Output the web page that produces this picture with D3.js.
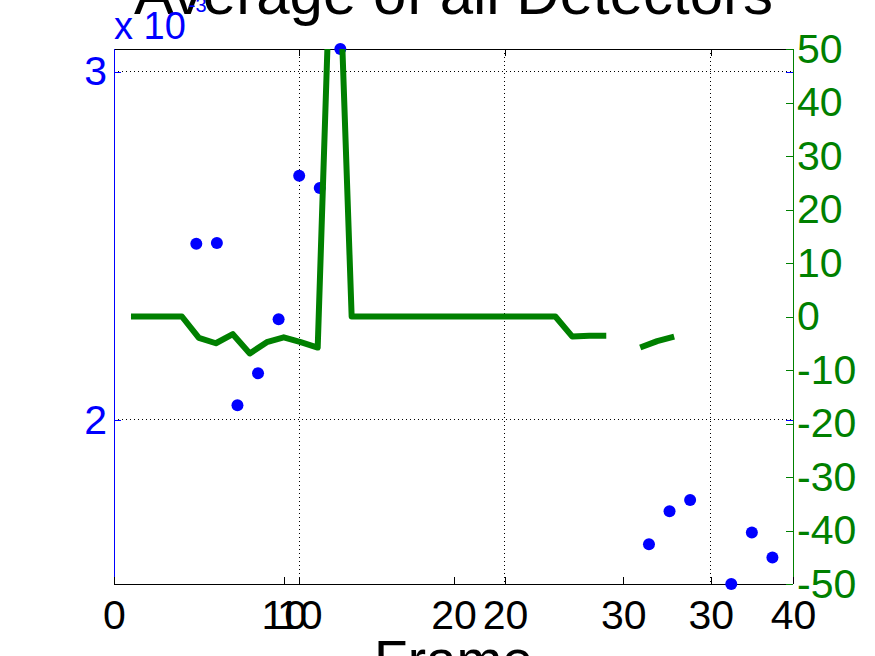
<!DOCTYPE html>
<html lang="en">
<head>
    <meta charset="utf-8">
    <title>Average of all Detectors</title>
    <script src="https://d3js.org/d3.v7.min.js"></script>
    <style>
        html, body {
            margin: 0;
            padding: 0;
            background: #fff;
        }
        text {
            font-family: "Liberation Sans", Arial, sans-serif;
        }
        .tick text {
            font-size: 41px;
        }
        line {
            shape-rendering: crispEdges;
        }
        .grid line {
            stroke: #000;
            stroke-width: 1px;
            stroke-dasharray: 1, 3;
        }
    </style>
</head>
<body>
<script type="text/javascript">

    // frames shown by the dots (left axis) and by the line (right axis)
    var dotFrames  = [5, 6, 7, 8, 9, 10, 11, 12, 27, 28, 29, 31, 32, 33];
    var dotValues  = [2.506e-3, 2.508e-3, 2.042e-3, 2.134e-3, 2.289e-3, 2.701e-3, 2.666e-3, 3.065e-3,
                      1.643e-3, 1.738e-3, 1.770e-3, 1.529e-3, 1.677e-3, 1.605e-3];

    var lineFrames = [1, 2, 3, 4, 5, 6, 7, 8, 9, 10, 11, 12, 13, 14, 15, 16, 17,
                      18, 19, 20, 21, 22, 23, 24, 25, 26, 27, 28, 29, 30, 31, 32, 33];
    var lineValues = [0, 0, 0, 0, -4.0, -5.0, -3.3, -6.9, -4.8, -3.9, -4.8, -5.8, 92, 0, 0, 0, 0,
                      0, 0, 0, 0, 0, 0, 0, 0, 0, -3.75, -3.6, -3.6, NaN, -5.8, -4.6, -3.75];

    var xTicksLeft  = [10, 20, 30];
    var xTicksRight = [0, 10, 20, 30, 40];
    var yTicksLeft  = [2e-3, 3e-3];
    var yTicksRight = [-50, -40, -30, -20, -10, 0, 10, 20, 30, 40, 50];

    var w = 875, h = 656;
    // plot box (note: "top" is taken by window.top, so prefixed names)
    var boxL = 114, boxR = 793, boxT = 49, boxB = 584;
    var blue = "#0000ff", green = "#008000";
    var tick = 7;

    // plain hyphen like matlab, not the unicode minus of d3.format
    var plain = d => String(d);

    var svg = d3.select("body").append("svg")
        .attr("width", w)
        .attr("height", h);

    // scales
    var x1 = d3.scaleLinear().domain([1, 34]).range([boxL, boxR]);
    var y1 = d3.scaleLinear().domain(d3.extent(dotValues)).range([boxB, boxT]);
    var x2 = d3.scaleLinear().domain([0, 40]).range([boxL, boxR]);
    var y2 = d3.scaleLinear().domain([-50, 50]).range([boxB, boxT]);

    // grid of the first axes
    svg.append("g").attr("class", "grid")
        .selectAll("line").data(xTicksLeft).enter().append("line")
        .attr("x1", d => x1(d)).attr("x2", d => x1(d))
        .attr("y1", boxT).attr("y2", boxB);
    svg.append("g").attr("class", "grid")
        .selectAll("line").data(yTicksLeft).enter().append("line")
        .attr("x1", boxL).attr("x2", boxR)
        .attr("y1", d => y1(d)).attr("y2", d => y1(d));

    // box
    svg.append("line").attr("x1", boxL).attr("x2", boxR).attr("y1", boxT).attr("y2", boxT)
        .attr("stroke", "#000");
    svg.append("line").attr("x1", boxL).attr("x2", boxR).attr("y1", boxB).attr("y2", boxB)
        .attr("stroke", "#000");
    svg.append("line").attr("x1", boxL).attr("x2", boxL).attr("y1", boxT).attr("y2", boxB)
        .attr("stroke", blue);
    svg.append("line").attr("x1", boxR).attr("x2", boxR).attr("y1", boxT).attr("y2", boxB)
        .attr("stroke", green);

    function style(g, color) {
        g.select(".domain").remove();
        g.selectAll(".tick line").attr("stroke", color);
        g.selectAll(".tick text").attr("fill", color);
    }

    // x axes, ticks pointing inwards
    svg.append("g")
        .attr("transform", "translate(0," + boxB + ")")
        .call(d3.axisBottom(x1).tickValues(xTicksLeft).tickSize(-tick).tickPadding(16).tickFormat(plain))
        .call(style, "#000");
    svg.append("g")
        .attr("transform", "translate(0," + boxT + ")")
        .call(d3.axisTop(x1).tickValues(xTicksLeft).tickSize(-tick).tickFormat(""))
        .call(style, "#000");
    svg.append("g")
        .attr("transform", "translate(0," + boxB + ")")
        .call(d3.axisBottom(x2).tickValues(xTicksRight).tickSize(-tick).tickPadding(16).tickFormat(plain))
        .call(style, "#000");

    // left axis (x 10^-3)
    svg.append("g")
        .attr("transform", "translate(" + boxL + ",0)")
        .call(d3.axisLeft(y1).tickValues(yTicksLeft).tickSize(-tick).tickPadding(7)
            .tickFormat(d => String(Math.round(d * 1e3))))
        .call(style, blue);
    svg.append("g")
        .attr("transform", "translate(" + boxR + ",0)")
        .call(d3.axisRight(y1).tickValues(yTicksLeft).tickSize(-tick).tickFormat(""))
        .call(style, blue);

    // right axis
    svg.append("g")
        .attr("transform", "translate(" + boxR + ",0)")
        .call(d3.axisRight(y2).tickValues(yTicksRight).tickSize(-tick).tickPadding(4).tickFormat(plain))
        .call(style, green);

    // dots
    svg.append("g").selectAll("circle")
        .data(dotFrames.map((f, i) => [f, dotValues[i]]))
        .enter().append("circle")
        .attr("cx", d => x1(d[0]))
        .attr("cy", d => y1(d[1]))
        .attr("r", 6)
        .attr("fill", blue);

    // line, clipped to the plot box
    svg.append("clipPath").attr("id", "clip")
        .append("rect")
        .attr("x", boxL).attr("y", boxT)
        .attr("width", boxR - boxL).attr("height", boxB - boxT);

    var line = d3.line()
        .defined(d => !isNaN(d[1]))
        .x(d => x2(d[0]))
        .y(d => y2(d[1]));

    svg.append("path")
        .datum(lineFrames.map((f, i) => [f, lineValues[i]]))
        .attr("clip-path", "url(#clip)")
        .attr("fill", "none")
        .attr("stroke", green)
        .attr("stroke-width", 6)
        .attr("stroke-linejoin", "round")
        .attr("d", line);

    // title and x label
    svg.append("text")
        .attr("x", (boxL + boxR) / 2)
        .attr("y", 14)
        .attr("text-anchor", "middle")
        .style("font-size", "60px")
        .text("Average of all Detectors");

    svg.append("text")
        .attr("x", (boxL + boxR) / 2)
        .attr("y", 679)
        .attr("text-anchor", "middle")
        .style("font-size", "55px")
        .text("Frame");

    // exponent label, drawn over the title like in the original
    var expo = svg.append("text")
        .attr("x", boxL)
        .attr("y", 39)
        .attr("fill", blue)
        .style("font-size", "38px");
    expo.append("tspan").text("x 10");
    expo.append("tspan")
        .attr("dx", 3)
        .attr("dy", -27)
        .style("font-size", "20px")
        .text("-3");

</script>
</body>
</html>
